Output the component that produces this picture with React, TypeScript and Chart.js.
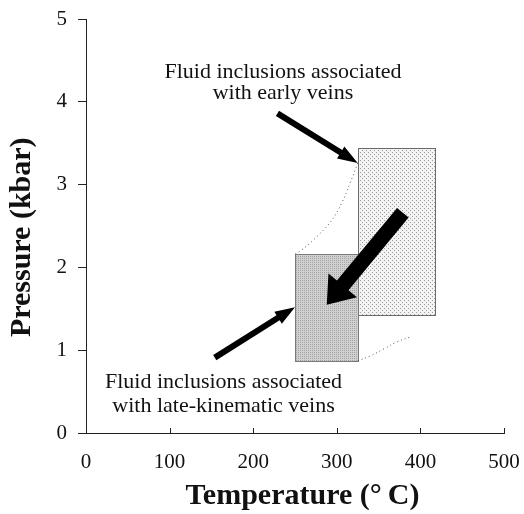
import React, { useEffect, useRef } from 'react';
import { Chart, registerables } from 'chart.js';

Chart.register(...registerables);

// Axis ticks
const temperatureTicks = [0, 100, 200, 300, 400, 500];
const pressureTicks = [0, 1, 2, 3, 4, 5];

// P-T boxes (temperature in °C, pressure in kbar)
const boxNames = ['early veins', 'late-kinematic veins'];
const boxTempMin = [325, 250];
const boxTempMax = [418, 325];
const boxPressMin = [1.43, 0.87];
const boxPressMax = [3.44, 2.16];

// Dotted isochore-like curves
const upperCurveTemp = [325, 316, 306, 294, 276, 258, 250];
const upperCurvePress = [3.26, 3.02, 2.78, 2.57, 2.37, 2.21, 2.16];
const lowerCurveTemp = [325, 340, 357, 372, 388];
const lowerCurvePress = [0.87, 0.93, 1.02, 1.1, 1.16];

// Arrows (tail -> tip)
const arrowFromTemp = [229, 379, 154];
const arrowFromPress = [3.86, 2.66, 0.91];
const arrowToTemp = [325, 288, 250];
const arrowToPress = [3.26, 1.55, 1.52];

// Annotation texts
const noteLines = [
  ['Fluid inclusions associated', 'with early veins'],
  ['Fluid inclusions associated', 'with late-kinematic veins'],
];
const noteTemp = [235.6, 164.5];
const notePress = [
  [4.29, 4.03],
  [0.54, 0.25],
];

// Axis titles
const xTitle = '\u00a0\u00a0Temperature (°\u2009C)';
const yTitle = 'Pressure (kbar)\u00a0\u00a0\u00a0';

// Styles
const arrowStyle = [
  { shaft: 6, headLen: 20, headWidth: 14 },
  { shaft: 15, headLen: 25, headWidth: 37 },
  { shaft: 6, headLen: 20, headWidth: 14 },
];
const boxStroke = ['#6a6a6a', '#7a7a7a'];
const FONT = "'Liberation Serif', 'Times New Roman', serif";

function makePattern(kind: number): CanvasPattern | string {
  const c = document.createElement('canvas');
  c.width = 4;
  c.height = 4;
  const g = c.getContext('2d');
  if (!g) return '#ddd';
  if (kind === 0) {
    g.fillStyle = '#f3f3f3';
    g.fillRect(0, 0, 4, 4);
    g.fillStyle = '#9c9c9c';
    g.fillRect(0, 0, 1, 1);
    g.fillRect(2, 2, 1, 1);
  } else {
    g.fillStyle = '#d0d0d0';
    g.fillRect(0, 0, 4, 4);
    g.fillStyle = '#a4a4a4';
    g.fillRect(0, 0, 1, 1);
    g.fillRect(2, 2, 1, 1);
    g.fillRect(2, 0, 1, 1);
    g.fillRect(0, 2, 1, 1);
  }
  const p = g.createPattern(c, 'repeat');
  return p || '#ddd';
}

export default function App() {
  const ref = useRef<HTMLCanvasElement | null>(null);

  useEffect(() => {
    if (!ref.current) return;
    const patterns = [makePattern(0), makePattern(1)];

    const shapesPlugin = {
      id: 'shapes',
      beforeDatasetsDraw(chart: any) {
        const { ctx, scales } = chart;
        const x = scales.x;
        const y = scales.y;
        ctx.save();
        for (let i = 0; i < boxNames.length; i++) {
          const l = Math.round(x.getPixelForValue(boxTempMin[i]));
          const r = Math.round(x.getPixelForValue(boxTempMax[i]));
          const t = Math.round(y.getPixelForValue(boxPressMax[i]));
          const b = Math.round(y.getPixelForValue(boxPressMin[i]));
          ctx.fillStyle = patterns[i];
          ctx.fillRect(l, t, r - l, b - t);
          ctx.strokeStyle = boxStroke[i];
          ctx.lineWidth = 1;
          ctx.strokeRect(l + 0.5, t + 0.5, r - l, b - t);
        }
        ctx.restore();
      },
      afterDatasetsDraw(chart: any) {
        const { ctx, scales, chartArea } = chart;
        const x = scales.x;
        const y = scales.y;
        ctx.save();
        // arrows
        ctx.fillStyle = '#000';
        for (let i = 0; i < arrowFromTemp.length; i++) {
          const x0 = x.getPixelForValue(arrowFromTemp[i]);
          const y0 = y.getPixelForValue(arrowFromPress[i]);
          const x1 = x.getPixelForValue(arrowToTemp[i]);
          const y1 = y.getPixelForValue(arrowToPress[i]);
          const dx = x1 - x0;
          const dy = y1 - y0;
          const len = Math.hypot(dx, dy);
          const ux = dx / len;
          const uy = dy / len;
          const nx = -uy;
          const ny = ux;
          const s = arrowStyle[i];
          const bx = x1 - ux * s.headLen;
          const by = y1 - uy * s.headLen;
          ctx.beginPath();
          ctx.moveTo(x0 + (nx * s.shaft) / 2, y0 + (ny * s.shaft) / 2);
          ctx.lineTo(bx + (nx * s.shaft) / 2, by + (ny * s.shaft) / 2);
          ctx.lineTo(bx + (nx * s.headWidth) / 2, by + (ny * s.headWidth) / 2);
          ctx.lineTo(x1, y1);
          ctx.lineTo(bx - (nx * s.headWidth) / 2, by - (ny * s.headWidth) / 2);
          ctx.lineTo(bx - (nx * s.shaft) / 2, by - (ny * s.shaft) / 2);
          ctx.lineTo(x0 - (nx * s.shaft) / 2, y0 - (ny * s.shaft) / 2);
          ctx.closePath();
          ctx.fill();
        }
        // notes
        ctx.fillStyle = '#111';
        ctx.font = `22px ${FONT}`;
        ctx.textAlign = 'center';
        ctx.textBaseline = 'alphabetic';
        for (let i = 0; i < noteLines.length; i++) {
          const cx = x.getPixelForValue(noteTemp[i]);
          noteLines[i].forEach((line, j) => {
            ctx.fillText(line, cx, y.getPixelForValue(notePress[i][j]));
          });
        }
        // inward x ticks
        ctx.strokeStyle = '#222';
        ctx.lineWidth = 1;
        temperatureTicks.forEach((v) => {
          const px = Math.round(x.getPixelForValue(v)) + 0.5;
          ctx.beginPath();
          ctx.moveTo(px, chartArea.bottom);
          ctx.lineTo(px, chartArea.bottom - 5);
          ctx.stroke();
        });
        ctx.restore();
      },
    };

    const chart = new Chart(ref.current, {
      type: 'scatter',
      data: {
        datasets: [
          {
            label: 'upper bound',
            data: upperCurveTemp.map((t, i) => ({ x: t, y: upperCurvePress[i] })),
            showLine: true,
            borderColor: '#555',
            borderWidth: 1,
            borderDash: [1, 3],
            pointRadius: 0,
            tension: 0.4,
          },
          {
            label: 'lower bound',
            data: lowerCurveTemp.map((t, i) => ({ x: t, y: lowerCurvePress[i] })),
            showLine: true,
            borderColor: '#555',
            borderWidth: 1,
            borderDash: [1, 3],
            pointRadius: 0,
            tension: 0.4,
          },
        ],
      },
      options: {
        responsive: false,
        animation: false,
        layout: { padding: { top: 19, right: 20, left: 0, bottom: 0 } },
        plugins: { legend: { display: false }, tooltip: { enabled: false } },
        scales: {
          x: {
            type: 'linear',
            min: 0,
            max: 500,
            afterBuildTicks: (s: any) => {
              s.ticks = temperatureTicks.map((v) => ({ value: v }));
            },
            afterFit: (s: any) => {
              s.height = 81;
              s.paddingLeft = 0;
              s.paddingRight = 0;
            },
            grid: { drawOnChartArea: false, drawTicks: false },
            border: { color: '#222', width: 1 },
            ticks: { padding: 17, color: '#111', font: { family: FONT, size: 21 } },
            title: {
              display: true,
              text: xTitle,
              color: '#111',
              font: { family: FONT, size: 30, weight: 'bold' },
              padding: { top: 0, bottom: 0 },
            },
          },
          y: {
            type: 'linear',
            min: 0,
            max: 5,
            afterBuildTicks: (s: any) => {
              s.ticks = pressureTicks.map((v) => ({ value: v }));
            },
            afterFit: (s: any) => {
              s.width = 86;
              s.paddingTop = 0;
              s.paddingBottom = 0;
            },
            grid: { drawOnChartArea: false, drawTicks: true, tickLength: 8, color: '#222' },
            border: { color: '#222', width: 1 },
            ticks: { padding: 11, color: '#111', font: { family: FONT, size: 21 } },
            title: {
              display: true,
              text: yTitle,
              color: '#111',
              font: { family: FONT, size: 30, weight: 'bold' },
              padding: { top: 4, bottom: 0 },
            },
          },
        },
      },
      plugins: [shapesPlugin],
    } as any);

    return () => chart.destroy();
  }, []);

  return (
    <div style={{ position: 'absolute', left: 0, top: 0, width: 524, height: 514, background: '#fff' }}>
      <canvas ref={ref} width={524} height={514} />
    </div>
  );
}
